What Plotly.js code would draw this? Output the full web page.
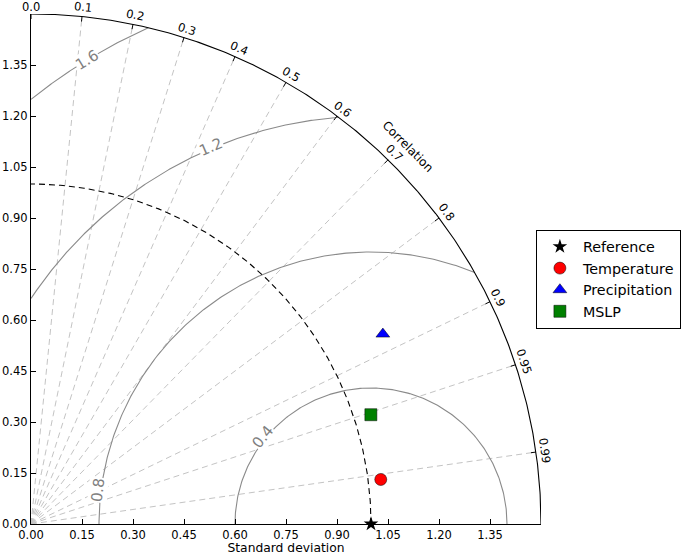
<!DOCTYPE html>
<html>
<head>
<meta charset="utf-8">
<script src="https://cdn.plot.ly/plotly-3.0.1.min.js"></script>
<style>html,body{margin:0;padding:0;background:#fff;}</style>
</head>
<body>
<div id="chart" style="width:685px;height:555px;"></div>
<script>
// ---- data ----
const seriesNames = ["Temperature", "Precipitation", "MSLP"];
const seriesStd = [1.037, 1.176, 1.050];
const seriesCorr = [0.992, 0.880, 0.952];
const refName = "Reference";
const refStd = 1.0;
const maxStd = 1.5;
const corrTicks = [0.0, 0.1, 0.2, 0.3, 0.4, 0.5, 0.6, 0.7, 0.8, 0.9, 0.95, 0.99];
const corrTickText = ["0.0","0.1","0.2","0.3","0.4","0.5","0.6","0.7","0.8","0.9","0.95","0.99"];
const rmsLevels = [0.4, 0.8, 1.2, 1.6];
const rmsLabelAt = [ {x:0.682, y:0.256}, {x:0.197, y:0.100}, {x:0.529, y:1.109}, {x:0.165, y:1.365} ];
const stdTicks = [0, 0.15, 0.30, 0.45, 0.60, 0.75, 0.90, 1.05, 1.20, 1.35];

const FONT = "DejaVu Sans, Liberation Sans, sans-serif";
const traces = [];
const deg = Math.PI/180;

// radial correlation lines
{
  const xs=[], ys=[];
  corrTicks.forEach(c => {
    if (c === 0) return;
    const t = Math.acos(c);
    xs.push(0, maxStd*Math.cos(t), null);
    ys.push(0, maxStd*Math.sin(t), null);
  });
  traces.push({x:xs, y:ys, mode:'lines', line:{color:'#c4c4c4', width:1, dash:'6px,4px'}, hoverinfo:'skip', showlegend:false});
}

// RMS contours
rmsLevels.forEach(R => {
  let p0 = 0, p1 = Math.PI;
  if (1+R > maxStd) {
    const x = (maxStd*maxStd - R*R + 1)/2;
    const y = Math.sqrt(maxStd*maxStd - x*x);
    p0 = Math.atan2(y, x-1);
  }
  if (R >= 1) p1 = Math.acos(-1/R);
  const xs=[], ys=[];
  const N = 240;
  for (let i=0;i<=N;i++){
    const p = p0 + (p1-p0)*i/N;
    xs.push(1 + R*Math.cos(p)); ys.push(R*Math.sin(p));
  }
  traces.push({x:xs, y:ys, mode:'lines', line:{color:'#8a8a8a', width:1.1}, hoverinfo:'skip', showlegend:false});
});

// reference std arc (dashed)
{
  const xs=[], ys=[];
  for (let i=0;i<=200;i++){ const t=Math.PI/2*i/200; xs.push(refStd*Math.cos(t)); ys.push(refStd*Math.sin(t)); }
  traces.push({x:xs, y:ys, mode:'lines', line:{color:'#000', width:1.1, dash:'6px,4px'}, hoverinfo:'skip', showlegend:false});
}

// outer arc
{
  const xs=[], ys=[];
  for (let i=0;i<=300;i++){ const t=Math.PI/2*i/300; xs.push(maxStd*Math.cos(t)); ys.push(maxStd*Math.sin(t)); }
  traces.push({x:xs, y:ys, mode:'lines', line:{color:'#000', width:1.1}, hoverinfo:'skip', showlegend:false});
}
// outer arc tick marks
{
  const xs=[], ys=[]; const tl = 5/340;
  corrTicks.forEach(c => {
    const t = Math.acos(c);
    xs.push(maxStd*Math.cos(t), (maxStd-tl)*Math.cos(t), null);
    ys.push(maxStd*Math.sin(t), (maxStd-tl)*Math.sin(t), null);
  });
  traces.push({x:xs, y:ys, mode:'lines', line:{color:'#000', width:1}, hoverinfo:'skip', showlegend:false});
}

// reference point
traces.push({x:[refStd], y:[0], mode:'markers', name:refName, cliponaxis:false,
  marker:{symbol:'star', size:11, color:'#000', line:{color:'#000', width:0}}});

const colors = ['#ff0000', '#0000ff', '#008000'];
const symbols = ['circle', 'triangle-up', 'square'];
seriesNames.forEach((n,i) => {
  const s = seriesStd[i], c = seriesCorr[i];
  traces.push({x:[s*c], y:[s*Math.sqrt(1-c*c)], mode:'markers', name:n, cliponaxis:false,
    marker:{symbol:symbols[i], size:12, color:colors[i], line:{color:'#000', width:0.5}}});
});

// annotations (paper coords: axis range [0,maxStd] spans the whole plot domain)
const annotations = [];
const off = 0.027;
corrTicks.forEach((c,i) => {
  const t = Math.acos(c);
  let px = (maxStd+off)*Math.cos(t)/maxStd, py = (maxStd+off)*Math.sin(t)/maxStd;
  py = Math.min(py, 1 + 7/510);   // keep the top label inside the page
  annotations.push({x:px, y:py, xref:'paper', yref:'paper',
    text:corrTickText[i], showarrow:false, textangle:90 - t/deg, xanchor:'center', yanchor:'middle',
    font:{family:FONT, size:11.5, color:'#000'}});
});
annotations.push({x:1.57*Math.cos(45*deg)/maxStd, y:1.57*Math.sin(45*deg)/maxStd, xref:'paper', yref:'paper', text:'Correlation',
  showarrow:false, textangle:45, xanchor:'center', yanchor:'middle', font:{family:FONT, size:12, color:'#000'}});

rmsLevels.forEach((R,i) => {
  const p = rmsLabelAt[i];
  const dx = p.x - 1, dy = p.y;
  const ang = Math.atan2(-dx, dy)/deg;
  annotations.push({x:p.x, y:p.y, xref:'x', yref:'y', text:R.toFixed(1), showarrow:false,
    textangle:-ang, xanchor:'center', yanchor:'middle', bgcolor:'#ffffff', borderpad:0,
    font:{family:FONT, size:15, color:'#808080'}});
});

const axisCommon = {
  range:[0, maxStd], tickvals:stdTicks, tickformat:'.2f', ticks:'inside', ticklen:5, tickwidth:1, tickcolor:'#000',
  showline:true, linecolor:'#000', linewidth:1.1, showgrid:false, zeroline:false, fixedrange:true,
  tickfont:{family:FONT, size:11.5, color:'#000'}
};

const layout = {
  width:685, height:555,
  margin:{l:31, r:144, t:14, b:31, pad:0, autoexpand:false},
  paper_bgcolor:'#fff', plot_bgcolor:'#fff',
  xaxis:Object.assign({}, axisCommon, {title:{text:'Standard deviation', font:{family:FONT, size:12.3, color:'#000'}, standoff:6}}),
  yaxis:Object.assign({}, axisCommon),
  showlegend:true,
  legend:{x:0.99, y:0.577, xanchor:'left', yanchor:'top', bordercolor:'#000', borderwidth:1, bgcolor:'#fff',
    font:{family:FONT, size:14.3, color:'#000'}, tracegroupgap:0, itemwidth:36},
  annotations:annotations
};

Plotly.newPlot('chart', traces, layout, {displayModeBar:false, staticPlot:true});
</script>
</body>
</html>
